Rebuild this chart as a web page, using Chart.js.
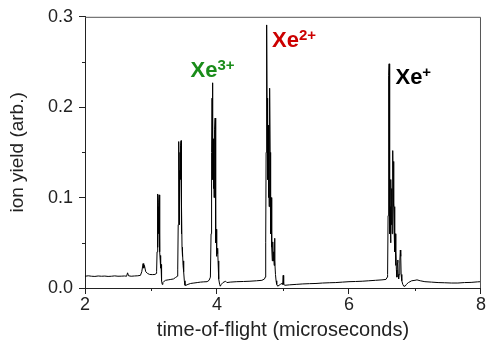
<!DOCTYPE html>
<html>
<head>
<meta charset="utf-8">
<script src="https://cdn.jsdelivr.net/npm/chart.js@4.4.1/dist/chart.umd.min.js"></script>
<style>
  body { margin: 0; background: #fff; }
  canvas { display: block; }
</style>
</head>
<body>
<canvas id="myChart" width="486" height="353"></canvas>
<script>
// Time-of-flight spectrum of Xe ions

const tof = [
  2.00, 2.05, 2.10, 2.15, 2.20, 2.25, 2.30, 2.35, 2.40, 2.45, 2.50, 2.55, 2.60, 2.63, 2.645, 2.66,
  2.70, 2.75, 2.80, 2.84, 2.86, 2.88, 2.89, 2.90, 2.92, 2.95, 2.98, 3.02, 3.06, 3.08,
  3.085, 3.092, 3.097, 3.100, 3.103, 3.106, 3.109, 3.112, 3.116, 3.120, 3.124, 3.127, 3.130, 3.133,
  3.136, 3.140, 3.144, 3.148, 3.152, 3.157, 3.163, 3.170, 3.18, 3.20, 3.22, 3.26, 3.30, 3.34, 3.37, 3.40,
  3.405, 3.412, 3.418, 3.422, 3.425, 3.428, 3.432, 3.436, 3.440, 3.445, 3.450, 3.455, 3.459, 3.462,
  3.466, 3.470, 3.475, 3.480, 3.486, 3.492, 3.498, 3.505, 3.515, 3.53,
  3.56, 3.60, 3.65, 3.70, 3.75, 3.80, 3.85, 3.88,
  3.90, 3.910, 3.918, 3.925, 3.930, 3.934, 3.938, 3.942, 3.946, 3.950, 3.955, 3.960, 3.966, 3.972,
  3.976, 3.980, 3.984, 3.988, 3.993, 3.998, 4.004, 4.010, 4.016, 4.022, 4.030, 4.040, 4.050, 4.065,
  4.09, 4.13, 4.15, 4.20, 4.30, 4.40, 4.50, 4.60, 4.68, 4.72,
  4.730, 4.738, 4.744, 4.750, 4.755, 4.759, 4.763, 4.767, 4.771, 4.775, 4.780, 4.785, 4.790, 4.795,
  4.800, 4.805, 4.810, 4.815, 4.820, 4.826, 4.832, 4.838, 4.845, 4.852, 4.858, 4.866, 4.872, 4.878,
  4.886, 4.895, 4.905, 4.920, 4.940, 4.960, 4.985, 4.995, 5.003, 5.010, 5.03,
  5.10, 5.20, 5.30, 5.40, 5.50, 5.60, 5.70, 5.80, 5.90, 6.00, 6.10, 6.20, 6.30, 6.40, 6.50, 6.56, 6.58,
  6.585, 6.592, 6.598, 6.604, 6.608, 6.612, 6.616, 6.620, 6.625, 6.630, 6.636, 6.642, 6.648, 6.654,
  6.660, 6.665, 6.670, 6.675, 6.680, 6.685, 6.690, 6.695, 6.700, 6.706, 6.712, 6.718, 6.726, 6.734,
  6.740, 6.746, 6.752, 6.760, 6.770, 6.778, 6.784, 6.790, 6.800, 6.815, 6.830, 6.850, 6.870,
  6.90, 6.95, 7.00, 7.03, 7.08, 7.15, 7.25, 7.35, 7.45, 7.55, 7.65, 7.75, 7.85, 7.95, 8.00
];

const ionYield = [
  0.013, 0.0135, 0.013, 0.0128, 0.0133, 0.013, 0.0132, 0.0128, 0.013, 0.0134, 0.013, 0.0131, 0.0133, 0.013, 0.0168, 0.0135,
  0.013, 0.0133, 0.0135, 0.014, 0.018, 0.027, 0.022, 0.025, 0.018, 0.016, 0.015, 0.0148, 0.015, 0.016,
  0.018, 0.04, 0.085, 0.104, 0.07, 0.045, 0.09, 0.06, 0.075, 0.095, 0.103, 0.08, 0.05, 0.065,
  0.04, 0.03, 0.036, 0.022, 0.026, 0.018, 0.008, 0.004, 0.006, 0.0075, 0.0085, 0.009, 0.0095, 0.010, 0.0115, 0.013,
  0.02, 0.07, 0.14, 0.162, 0.12, 0.07, 0.13, 0.09, 0.15, 0.12, 0.158, 0.163, 0.11, 0.06,
  0.09, 0.045, 0.035, 0.04, 0.025, 0.03, 0.018, 0.008, 0.003, 0.003,
  0.004, 0.005, 0.0055, 0.006, 0.0065, 0.0068, 0.007, 0.0085,
  0.012, 0.06, 0.15, 0.21, 0.227, 0.17, 0.12, 0.165, 0.11, 0.15, 0.10, 0.14, 0.175, 0.188,
  0.13, 0.08, 0.05, 0.065, 0.035, 0.045, 0.038, 0.044, 0.03, 0.02, 0.01, 0.004, 0.002, 0.004,
  0.006, 0.0075, 0.006, 0.0065, 0.007, 0.0072, 0.0075, 0.008, 0.0085, 0.01,
  0.012, 0.05, 0.15, 0.26, 0.291, 0.2, 0.13, 0.21, 0.12, 0.18, 0.10, 0.16, 0.09, 0.19,
  0.221, 0.15, 0.09, 0.06, 0.10, 0.05, 0.045, 0.03, 0.051, 0.03, 0.04, 0.025, 0.055, 0.03,
  0.015, 0.008, 0.004, 0.002, 0.003, 0.004, 0.005, 0.004, 0.014, 0.004, 0.003,
  0.0035, 0.004, 0.0045, 0.0048, 0.005, 0.0055, 0.0058, 0.006, 0.0065, 0.007, 0.0072, 0.0075, 0.008, 0.0085, 0.009, 0.0095, 0.012,
  0.015, 0.08, 0.18, 0.235, 0.248, 0.17, 0.10, 0.06, 0.09, 0.05, 0.12, 0.07, 0.11, 0.06,
  0.13, 0.152, 0.10, 0.14, 0.09, 0.06, 0.09, 0.04, 0.06, 0.025, 0.04, 0.02, 0.012, 0.028,
  0.031, 0.015, 0.01, 0.015, 0.03, 0.042, 0.035, 0.015, 0.008, 0.004, 0.002, 0.002, 0.004,
  0.006, 0.008, 0.0085, 0.009, 0.008, 0.007, 0.0065, 0.006, 0.0058, 0.0055, 0.0055, 0.006, 0.0062, 0.0068, 0.007
];

// Axis ticks
const xTickLabels = ['2', '4', '6', '8'];
const yTickLabels = ['0.0', '0.1', '0.2', '0.3'];
const xMinorTicks = [3, 5, 7];
const yMinorTicks = [0.05, 0.15, 0.25];

// Peak labels
const ionNames = ['Xe', 'Xe', 'Xe'];
const ionCharges = ['3+', '2+', '+'];

const font = '"Liberation Sans", Arial, sans-serif';
Chart.defaults.font.family = font;

// Box around plot, minor ticks and the ion labels
const frameAndLabels = {
  id: 'frameAndLabels',
  afterDatasetsDraw(chart, args, opts) {
    const { ctx, chartArea: a, scales: { x, y } } = chart;
    ctx.save();
    ctx.strokeStyle = '#555';
    ctx.lineWidth = 1;
    ctx.beginPath();
    ctx.moveTo(a.left, a.top + 0.5);
    ctx.lineTo(a.right - 0.5, a.top + 0.5);
    ctx.lineTo(a.right - 0.5, a.bottom);
    ctx.stroke();

    ctx.strokeStyle = '#222';
    ctx.beginPath();
    xMinorTicks.forEach(v => {
      const px = Math.round(x.getPixelForValue(v)) + 0.5;
      ctx.moveTo(px, a.bottom);
      ctx.lineTo(px, a.bottom + 3);
    });
    yMinorTicks.forEach(v => {
      const py = Math.round(y.getPixelForValue(v)) + 0.5;
      ctx.moveTo(a.left, py);
      ctx.lineTo(a.left - 3, py);
    });
    ctx.stroke();

    ctx.textBaseline = 'alphabetic';
    ctx.textAlign = 'left';
    ionNames.forEach((name, i) => {
      const px = x.getPixelForValue(opts.anchors[i][0]);
      const py = y.getPixelForValue(opts.anchors[i][1]);
      ctx.fillStyle = opts.colors[i];
      ctx.font = 'bold 22px ' + font;
      ctx.fillText(name, px, py);
      const w = ctx.measureText(name).width;
      ctx.font = 'bold 15px ' + font;
      ctx.fillText(ionCharges[i], px + w, py - 7);
    });
    ctx.restore();
  }
};

const config = {
  type: 'line',
  data: {
    datasets: [{
      label: 'ion yield',
      data: tof.map((t, i) => ({ x: t, y: ionYield[i] })),
      borderColor: '#000',
      borderWidth: 1,
      pointRadius: 0,
      tension: 0,
      fill: false
    }]
  },
  options: {
    responsive: false,
    animation: false,
    layout: { autoPadding: false, padding: { left: 0, right: 3, top: 15, bottom: 0 } },
    plugins: {
      legend: { display: false },
      tooltip: { enabled: false },
      frameAndLabels: {
        anchors: [[3.598, 0.233], [4.834, 0.267], [6.704, 0.2253]],
        colors: ['#1a8c1a', '#cc0000', '#000']
      }
    },
    scales: {
      x: {
        type: 'linear',
        min: 2,
        max: 8,
        ticks: {
          stepSize: 2,
          padding: 0,
          color: '#222',
          font: { size: 18 },
          maxRotation: 0,
          callback: (v, i) => xTickLabels[i]
        },
        grid: { drawOnChartArea: false, tickLength: 6, tickColor: '#222' },
        border: { color: '#222', width: 1 },
        title: {
          display: true,
          text: 'time-of-flight (microseconds)',
          color: '#222',
          font: { size: 20 },
          padding: { top: 0, bottom: 11 }
        },
        afterFit: s => { s.height = 65; }
      },
      y: {
        min: 0,
        max: 0.3,
        ticks: {
          stepSize: 0.1,
          padding: 6,
          color: '#222',
          font: { size: 18 },
          callback: (v, i) => yTickLabels[i]
        },
        grid: { drawOnChartArea: false, tickLength: 6, tickColor: '#222' },
        border: { color: '#222', width: 1 },
        title: {
          display: true,
          text: 'ion yield (arb.)',
          color: '#222',
          font: { size: 19 },
          padding: { top: 6, bottom: 0 }
        },
        afterFit: s => { s.width = 85; }
      }
    }
  },
  plugins: [frameAndLabels]
};

new Chart(document.getElementById('myChart'), config);
</script>
</body>
</html>
